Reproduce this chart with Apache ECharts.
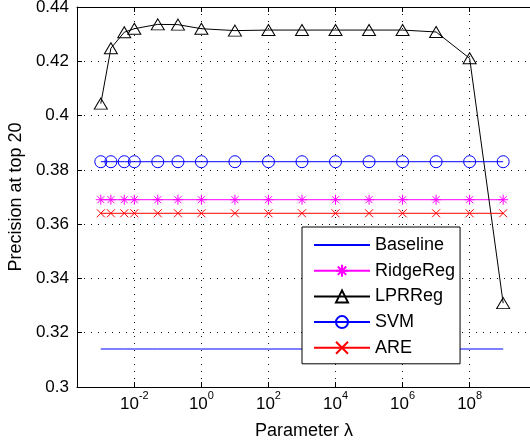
<!DOCTYPE html>
<html>
<head>
<meta charset="utf-8">
<script src="https://cdn.jsdelivr.net/npm/echarts@6/dist/echarts.min.js"></script>
<style>
  html, body { margin: 0; padding: 0; background: #fff; }
  #chart { width: 530px; height: 443px; }
</style>
</head>
<body>
<div id="chart"></div>
<script>
// lambda values used in the sweep
const lambdas = [0.001, 0.002, 0.005, 0.01, 0.05, 0.2, 1, 10, 100, 1e3, 1e4, 1e5, 1e6, 1e7, 1e8, 1e9];
const baseline = [0.314, 0.314, 0.314, 0.314, 0.314, 0.314, 0.314, 0.314, 0.314, 0.314, 0.314, 0.314, 0.314, 0.314, 0.314, 0.314];
const ridgeReg = [0.369, 0.369, 0.369, 0.369, 0.369, 0.369, 0.369, 0.369, 0.369, 0.369, 0.369, 0.369, 0.369, 0.369, 0.369, 0.369];
const lprReg = [0.4044, 0.4248, 0.4307, 0.4320, 0.4336, 0.4335, 0.4320, 0.4313, 0.4315, 0.4315, 0.4315, 0.4315, 0.4315, 0.4308, 0.4211, 0.3309];
const svm = [0.383, 0.383, 0.383, 0.383, 0.383, 0.383, 0.383, 0.383, 0.383, 0.383, 0.383, 0.383, 0.383, 0.383, 0.383, 0.383];
const are = [0.364, 0.364, 0.364, 0.364, 0.364, 0.364, 0.364, 0.364, 0.364, 0.364, 0.364, 0.364, 0.364, 0.364, 0.364, 0.364];
const xTicks = [0.01, 1, 100, 1e4, 1e6, 1e8];

const font = 'Liberation Sans';
const pairs = vals => vals.map((v, i) => [lambdas[i], v]);

const chart = echarts.init(document.getElementById('chart'));

const gridLine = { show: true, lineStyle: { color: '#111', width: 1, type: [1, 6] } };

function xAxisCfg(pos) {
  return {
    type: 'log',
    logBase: 10,
    position: pos,
    min: Math.pow(10, -3.71),
    max: Math.pow(10, 9.83),
    axisLine: { show: true, onZero: false, lineStyle: { color: '#000', width: 1 } },
    axisTick: { show: true, inside: true, length: 5, customValues: xTicks, lineStyle: { color: '#000' } },
    minorTick: { show: false },
    axisLabel: {
      show: pos === 'bottom',
      customValues: xTicks,
      margin: 3,
      formatter: v => '{b|10}{s|' + Math.round(Math.log10(v)) + '}',
      rich: {
        b: { fontSize: 17, lineHeight: 28, fontFamily: font, color: '#000' },
        s: { fontSize: 11, lineHeight: 11, verticalAlign: 'top', fontFamily: font, color: '#000' }
      }
    },
    splitLine: pos === 'bottom' ? gridLine : { show: false },
    name: pos === 'bottom' ? 'Parameter λ' : '',
    nameLocation: 'middle',
    nameGap: 35,
    nameTextStyle: { fontSize: 18, fontFamily: font, color: '#000' }
  };
}

const option = {
  animation: false,
  backgroundColor: '#fff',
  textStyle: { fontFamily: font },
  grid: { left: 77, top: 7, right: -1, bottom: 56, containLabel: false, outerBoundsMode: 'none' },
  xAxis: [xAxisCfg('bottom'), xAxisCfg('top')],
  yAxis: {
    type: 'value',
    min: 0.3,
    max: 0.44,
    interval: 0.02,
    axisLine: { show: true, lineStyle: { color: '#000', width: 1 } },
    axisTick: { show: true, inside: true, length: 5, lineStyle: { color: '#000' } },
    axisLabel: { fontSize: 17, margin: 8, color: '#000', fontFamily: font },
    splitLine: gridLine,
    name: 'Precision at top 20',
    nameLocation: 'middle',
    nameGap: 46,
    nameTextStyle: { fontSize: 18, fontFamily: font, color: '#000' }
  },
  legend: {
    orient: 'vertical',
    left: 302,
    top: 227,
    itemWidth: 56,
    itemHeight: 15,
    itemGap: 7.7,
    padding: [9, 5, 7, 11],
    backgroundColor: '#fff',
    borderColor: '#000',
    borderWidth: 1,
    borderRadius: 0,
    textStyle: { fontSize: 18, color: '#000', fontFamily: font },
    data: [
      { name: 'Baseline', itemStyle: { opacity: 0 } },
      'RidgeReg', 'LPRReg', 'SVM', 'ARE'
    ]
  },
  series: [
    {
      name: 'Baseline', type: 'line', data: pairs(baseline), symbol: 'none',
      lineStyle: { color: '#0000ff', width: 1 }, itemStyle: { color: '#0000ff' }
    },
    {
      name: 'RidgeReg', type: 'line', data: pairs(ridgeReg),
      symbol: 'path://M0,-1L0,1M-1,0L1,0M-0.7,-0.7L0.7,0.7M-0.7,0.7L0.7,-0.7',
      symbolSize: 10, showAllSymbol: true,
      lineStyle: { color: '#ff00ff', width: 1 },
      itemStyle: { color: 'rgba(0,0,0,0)', borderColor: '#ff00ff', borderWidth: 1 }
    },
    {
      name: 'LPRReg', type: 'line', data: pairs(lprReg),
      symbol: 'triangle', symbolSize: [13, 11], showAllSymbol: true,
      lineStyle: { color: '#000', width: 1 },
      itemStyle: { color: 'rgba(0,0,0,0)', borderColor: '#000', borderWidth: 1 }
    },
    {
      name: 'SVM', type: 'line', data: pairs(svm),
      symbol: 'circle', symbolSize: 12, showAllSymbol: true,
      lineStyle: { color: '#0000ff', width: 1 },
      itemStyle: { color: 'rgba(0,0,0,0)', borderColor: '#0000ff', borderWidth: 1 }
    },
    {
      name: 'ARE', type: 'line', data: pairs(are),
      symbol: 'path://M-1,-1L1,1M-1,1L1,-1',
      symbolSize: 8, showAllSymbol: true,
      lineStyle: { color: '#ff0000', width: 1 },
      itemStyle: { color: 'rgba(0,0,0,0)', borderColor: '#ff0000', borderWidth: 1 }
    }
  ]
};

chart.setOption(option);
</script>
</body>
</html>
